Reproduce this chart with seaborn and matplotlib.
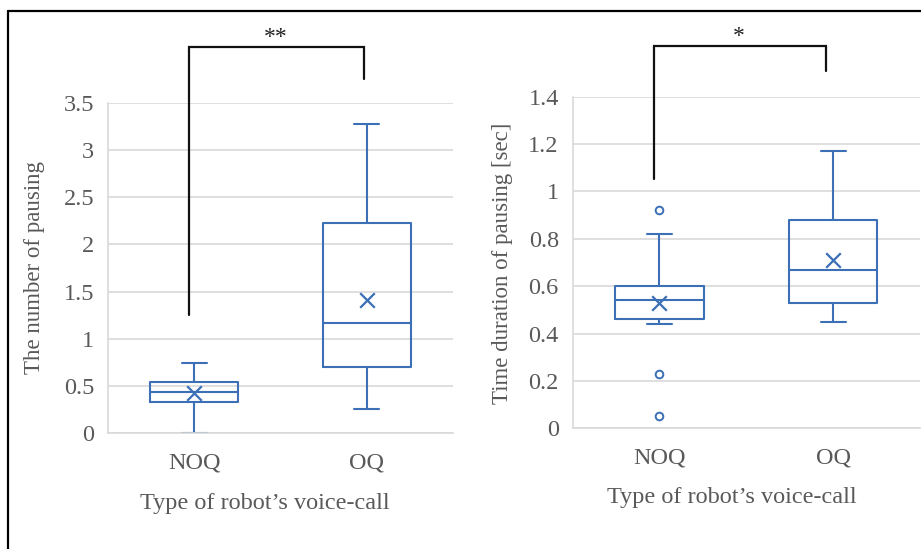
import numpy as np
import pandas as pd
import matplotlib
matplotlib.use("Agg")
import matplotlib.pyplot as plt
from matplotlib.lines import Line2D
from matplotlib.ticker import FuncFormatter, MultipleLocator
import seaborn as sns

# ---- data -------------------------------------------------------------
categories = ["NOQ", "OQ"]

# number of pausing
count_whislo = [0.00, 0.25]
count_q1 = [0.33, 0.70]
count_med = [0.44, 1.17]
count_q3 = [0.54, 2.23]
count_whishi = [0.74, 3.28]
count_mean = [0.42, 1.41]
count_fliers = [[], []]

# time duration of pausing [sec]
dur_whislo = [0.44, 0.45]
dur_q1 = [0.46, 0.53]
dur_med = [0.54, 0.67]
dur_q3 = [0.60, 0.88]
dur_whishi = [0.82, 1.17]
dur_mean = [0.53, 0.71]
dur_fliers = [[0.92, 0.23, 0.05], []]

count_sig = "**"
dur_sig = "*"

# ---- style ------------------------------------------------------------
sns.set_theme(style="white")
plt.rcParams["font.family"] = ["Liberation Serif", "DejaVu Serif"]

BLUE = "#3B6FB6"
GRID = "#D9D9D9"
TEXT = "#595959"
FS = 17.5
FS_Y = 16.5

fig = plt.figure(figsize=(9.21, 5.49), dpi=100)
ax_l = fig.add_axes([0.1173, 0.2113, 0.3746, 0.6011])
ax_r = fig.add_axes([0.6218, 0.2199, 0.3770, 0.6040])


def draw_panel(ax, whislo, q1, med, q3, whishi, mean, fliers, ymax, step,
               ylabel, sig, bracket):
    stats = []
    for i, cat in enumerate(categories):
        stats.append(dict(label=cat, whislo=whislo[i], q1=q1[i], med=med[i],
                          q3=q3[i], whishi=whishi[i], fliers=fliers[i]))
    pos = np.arange(len(categories))
    line = dict(color=BLUE, linewidth=1.5)
    ax.bxp(stats, positions=pos, widths=0.51, capwidths=0.145,
           boxprops=line, whiskerprops=line, capprops=line, medianprops=line,
           flierprops=dict(marker="o", markerfacecolor="none",
                           markeredgecolor=BLUE, markeredgewidth=1.4,
                           markersize=5.5),
           showmeans=False, manage_ticks=False)
    means = pd.DataFrame({"pos": pos, "mean": mean})
    sns.scatterplot(data=means, x="pos", y="mean", marker="x", color=BLUE,
                    s=110, linewidth=1.6, ax=ax, zorder=4, legend=False)

    ax.set_xlim(-0.5, 1.5)
    ax.set_ylim(0, ymax)
    ax.yaxis.set_major_locator(MultipleLocator(step))
    ax.yaxis.set_major_formatter(FuncFormatter(lambda v, p: f"{v:g}"))
    ax.set_xticks(pos)
    ax.set_xticklabels(categories)
    ax.yaxis.grid(True, color=GRID, linewidth=1.2)
    ax.set_axisbelow(True)
    for s in ["top", "right"]:
        ax.spines[s].set_visible(False)
    for s in ["left", "bottom"]:
        ax.spines[s].set_color(GRID)
        ax.spines[s].set_linewidth(1.2)
    ax.tick_params(axis="both", length=0, colors=TEXT, labelsize=FS)
    ax.tick_params(axis="y", pad=10)
    ax.tick_params(axis="x", pad=14)
    ax.set_ylabel(ylabel, fontsize=FS_Y, color=TEXT, va="center")
    ax.set_xlabel("Type of robot\u2019s voice-call", fontsize=FS,
                  color=TEXT, va="center")

    # significance bracket
    (x0, y0), (x1, y1), ytop, (sx, sy) = bracket
    ax.plot([x0, x0, x1, x1], [y0, ytop, ytop, y1], color="#111111",
            linewidth=1.6, clip_on=False, solid_joinstyle="miter")
    ax.text(sx, sy, sig, ha="center", va="center", fontsize=17,
            color="#222222", clip_on=False)


draw_panel(ax_l, count_whislo, count_q1, count_med, count_q3, count_whishi,
           count_mean, count_fliers, 3.5, 0.5, "The number of pausing",
           count_sig, ((-0.03, 1.25), (0.985, 3.75), 4.09, (0.47, 4.19)))
draw_panel(ax_r, dur_whislo, dur_q1, dur_med, dur_q3, dur_whishi,
           dur_mean, dur_fliers, 1.4, 0.2, "Time duration of pausing [sec]",
           dur_sig, ((-0.03, 1.052), (0.96, 1.508), 1.614, (0.455, 1.652)))

ax_l.yaxis.set_label_coords(-0.212, 0.5)
ax_l.xaxis.set_label_coords(0.455, -0.213)
ax_r.yaxis.set_label_coords(-0.202, 0.497)
ax_r.xaxis.set_label_coords(0.458, -0.210)

# outer frame (top and left edges)
fig.add_artist(Line2D([0.0087, 1.0], [0.98, 0.98], color="black",
                      linewidth=1.6, transform=fig.transFigure))
fig.add_artist(Line2D([0.0087, 0.0087], [0.0, 0.98], color="black",
                      linewidth=1.6, transform=fig.transFigure))

fig.savefig("out.png", dpi=100, facecolor="white")
